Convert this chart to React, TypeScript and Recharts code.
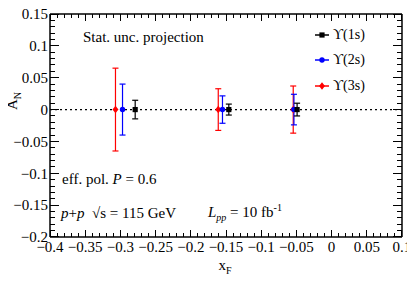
import React from 'react';
import { ScatterChart, Scatter, XAxis, YAxis, ErrorBar, ReferenceLine, Legend } from 'recharts';

// x_F positions of the projected points (slightly shifted per state so bars don't overlap)
const xF1s = [-0.279, -0.146, -0.049];
const xF2s = [-0.297, -0.155, -0.0535];
const xF3s = [-0.307, -0.161, -0.0545];

// A_N central values (projection, so all zero)
const an1s = [0, 0, 0];
const an2s = [0, 0, 0];
const an3s = [0, 0, 0];

// statistical uncertainties
const err1s = [0.0146, 0.0086, 0.010];
const err2s = [0.040, 0.0215, 0.024];
const err3s = [0.065, 0.0327, 0.037];

// ROOT-style frame: majors every 0.05, minors every 0.01
const xTicks = Array.from({ length: 51 }, (_, i) => Math.round((-0.4 + i * 0.01) * 100) / 100);
const yTicks = Array.from({ length: 36 }, (_, i) => Math.round((-0.2 + i * 0.01) * 100) / 100);

const legendOrder = ['ϒ(1s)', 'ϒ(2s)', 'ϒ(3s)'];

const toRows = (xs: number[], ys: number[], es: number[]) =>
  xs.map((x, i) => ({ x, y: ys[i], err: es[i] }));

const data1s = toRows(xF1s, an1s, err1s);
const data2s = toRows(xF2s, an2s, err2s);
const data3s = toRows(xF3s, an3s, err3s);

const FONT = '"Liberation Serif", "DejaVu Serif", serif';
const fmt = (v: number) => (v < 0 ? '\u2212' + String(Math.abs(v)) : String(v));
const isMajor = (v: number) => Math.abs(v * 20 - Math.round(v * 20)) < 1e-6;
const THIN = 0.01; // axes need a non-zero box to be drawn

// tick renderers: inward tick marks (long for majors), labels on bottom/left only
const BottomTick = ({ x, y, payload }: any) => {
  const major = isMajor(payload.value);
  return (
    <g>
      <line x1={x} x2={x} y1={y} y2={y - (major ? 7 : 3.5)} stroke="#000" shapeRendering="crispEdges" />
      {major && (
        <text x={x} y={y + 15} textAnchor="middle" fontSize={15} fontFamily={FONT} fill="#000">
          {fmt(payload.value)}
        </text>
      )}
    </g>
  );
};
const TopTick = ({ x, y, payload }: any) => (
  <line x1={x} x2={x} y1={y} y2={y + (isMajor(payload.value) ? 7 : 3.5)} stroke="#000" shapeRendering="crispEdges" />
);
const LeftTick = ({ x, y, payload }: any) => {
  const major = isMajor(payload.value);
  return (
    <g>
      <line x1={x} x2={x + (major ? 9 : 4.5)} y1={y} y2={y} stroke="#000" shapeRendering="crispEdges" />
      {major && (
        <text x={x - 2} y={y} dy="0.35em" textAnchor="end" fontSize={15} fontFamily={FONT} fill="#000">
          {fmt(payload.value)}
        </text>
      )}
    </g>
  );
};
const RightTick = ({ x, y, payload }: any) => (
  <line x1={x} x2={x - (isMajor(payload.value) ? 9 : 4.5)} y1={y} y2={y} stroke="#000" shapeRendering="crispEdges" />
);

const Marker = ({ kind, cx, cy, color }: { kind: string; cx: number; cy: number; color: string }) => {
  if (kind === 'square') return <rect x={cx - 2.6} y={cy - 2.6} width={5.2} height={5.2} fill={color} />;
  if (kind === 'circle') return <circle cx={cx} cy={cy} r={2.7} fill={color} />;
  return <polygon points={`${cx},${cy - 3.8} ${cx + 3},${cy} ${cx},${cy + 3.8} ${cx - 3},${cy}`} fill={color} />;
};

const markerOf: Record<string, string> = { 'ϒ(1s)': 'square', 'ϒ(2s)': 'circle', 'ϒ(3s)': 'diamond' };

const renderLegend = (props: any) => {
  const items = [...(props.payload ?? [])]
    .filter((a: any) => legendOrder.includes(a.value))
    .sort((a: any, b: any) => legendOrder.indexOf(a.value) - legendOrder.indexOf(b.value));
  return (
    <div style={{ fontFamily: FONT, fontSize: 14 }}>
      {items.map((p: any) => (
        <div key={p.value} style={{ height: 25.5, display: 'flex', alignItems: 'center' }}>
          <svg width={14} height={10}>
            <line x1={0} y1={5} x2={14} y2={5} stroke={p.color} strokeWidth={1.5} />
            <Marker kind={markerOf[p.value]} cx={7} cy={5} color={p.color} />
          </svg>
          <span style={{ marginLeft: 4, color: '#000' }}>{p.value}</span>
        </div>
      ))}
    </div>
  );
};

const txt = (left: number, top: number): React.CSSProperties => ({
  position: 'absolute',
  left: left - 8,
  top: top - 8,
  transform: 'translateY(-50%)',
  whiteSpace: 'nowrap',
  fontSize: 15,
  lineHeight: 1,
  fontFamily: FONT,
  color: '#000',
});

export default function App() {
  const axisLine = { stroke: '#000', strokeWidth: 1.5 };
  return (
    <div style={{ position: 'relative', width: 407, height: 267 }}>
      <style>{'.recharts-surface{overflow:visible}'}</style>
      <ScatterChart width={407} height={267} margin={{ top: 6, right: 13, bottom: 38, left: 42 }}>
        <XAxis xAxisId="x" type="number" dataKey="x" domain={[-0.4, 0.1]} ticks={xTicks} interval={0}
          allowDataOverflow height={THIN} tickSize={0} tickMargin={0} tick={BottomTick}
          axisLine={axisLine} tickLine={false} />
        <YAxis yAxisId="y" type="number" dataKey="y" domain={[-0.2, 0.15]} ticks={yTicks} interval={0}
          allowDataOverflow width={THIN} tickSize={0} tickMargin={0} tick={LeftTick}
          axisLine={axisLine} tickLine={false} />
        <XAxis xAxisId="xt" orientation="top" type="number" dataKey="x" domain={[-0.4, 0.1]} ticks={xTicks}
          interval={0} allowDataOverflow height={THIN} tickSize={0} tickMargin={0} tick={TopTick}
          axisLine={axisLine} tickLine={false} />
        <YAxis yAxisId="yr" orientation="right" type="number" dataKey="y" domain={[-0.2, 0.15]} ticks={yTicks}
          interval={0} allowDataOverflow width={THIN} tickSize={0} tickMargin={0} tick={RightTick}
          axisLine={axisLine} tickLine={false} />

        <ReferenceLine xAxisId="x" yAxisId="y" y={0} stroke="#000" strokeWidth={1.2} strokeDasharray="2 3" />

        {/* carrier series for the mirrored frame axes, draws nothing */}
        <Scatter xAxisId="xt" yAxisId="yr" name="frame" data={data1s} legendType="none"
          isAnimationActive={false} shape={() => <g />} />

        <Scatter xAxisId="x" yAxisId="y" name="ϒ(3s)" data={data3s} fill="#ff0000" isAnimationActive={false}
          shape={(p: any) => <Marker kind="diamond" cx={p.cx} cy={p.cy} color="#ff0000" />}>
          <ErrorBar dataKey="err" direction="y" width={3} stroke="#ff0000" strokeWidth={1.2} />
        </Scatter>
        <Scatter xAxisId="x" yAxisId="y" name="ϒ(2s)" data={data2s} fill="#0000ff" isAnimationActive={false}
          shape={(p: any) => <Marker kind="circle" cx={p.cx} cy={p.cy} color="#0000ff" />}>
          <ErrorBar dataKey="err" direction="y" width={3} stroke="#0000ff" strokeWidth={1.2} />
        </Scatter>
        <Scatter xAxisId="x" yAxisId="y" name="ϒ(1s)" data={data1s} fill="#000000" isAnimationActive={false}
          shape={(p: any) => <Marker kind="square" cx={p.cx} cy={p.cy} color="#000000" />}>
          <ErrorBar dataKey="err" direction="y" width={3} stroke="#000000" strokeWidth={1.2} />
        </Scatter>

        <Legend layout="vertical" align="center" verticalAlign="middle" content={renderLegend}
          wrapperStyle={{ left: 307, top: 14, width: 80 }} />
      </ScatterChart>

      <div style={txt(83, 37)}>Stat. unc. projection</div>
      <div style={txt(62, 179)}>eff. pol. <i>P</i> = 0.6</div>
      <div style={txt(61, 213)}><i>p</i>+<i>p</i>&nbsp;&nbsp;√s = 115 GeV</div>
      <div style={txt(208, 213)}>
        <i>L</i><sub style={{ fontSize: 10 }}><i>pp</i></sub> = 10 fb<sup style={{ fontSize: 10 }}>-1</sup>
      </div>
      <div style={{ ...txt(14, 101), transform: 'translate(-50%, -50%) rotate(-90deg)' }}>
        A<sub style={{ fontSize: 10 }}>N</sub>
      </div>
      <div style={{ ...txt(225, 267), transform: 'translate(-50%, -50%)' }}>
        x<sub style={{ fontSize: 10 }}>F</sub>
      </div>
    </div>
  );
}
